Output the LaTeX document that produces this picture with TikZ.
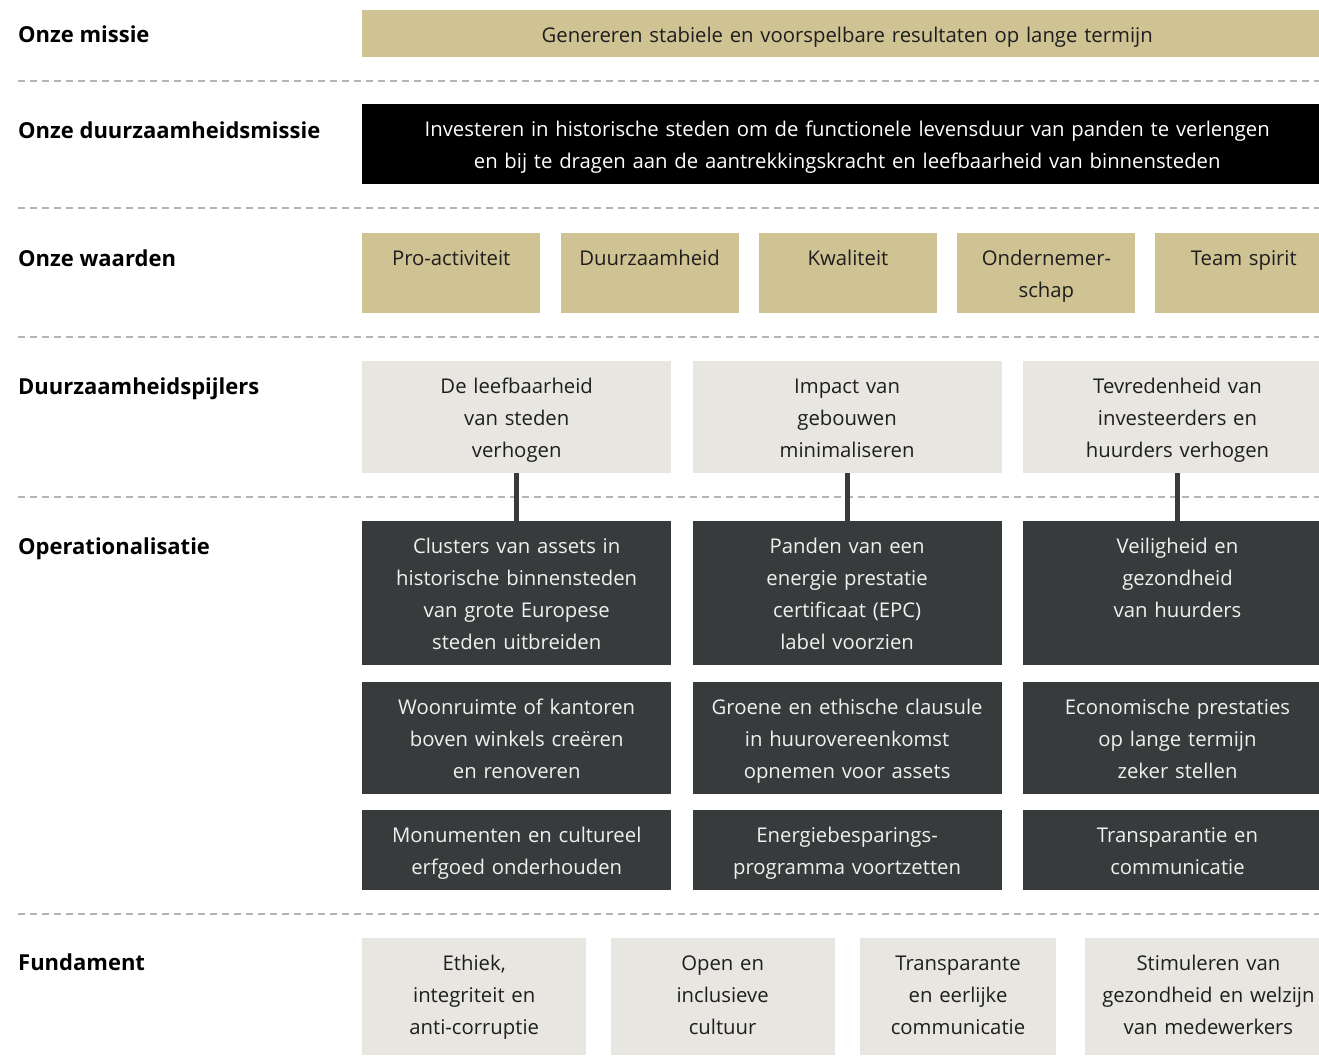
\documentclass[tikz,border=0pt]{standalone}
\usepackage{fontspec}
\setmainfont{Open Sans}
\usetikzlibrary{positioning}
\definecolor{gold}{HTML}{CFC293}
\definecolor{stone}{HTML}{E8E6E1}
\definecolor{slate}{HTML}{383B3C}
\definecolor{ink}{HTML}{1E1E1E}
\definecolor{rulegrey}{HTML}{B4B4B4}

\begin{document}
\begin{tikzpicture}[x=1pt,y=-1pt,font=\fontsize{20.3}{32}\selectfont,node distance=20pt,
  cell/.style={rectangle,inner sep=0pt,anchor=north west,align=center,text height=32pt},
  goldcell/.style={cell,fill=gold,text=ink},
  stonecell/.style={cell,fill=stone,text=ink},
  darkcell/.style={cell,fill=slate,text=white!94!black},
  blackcell/.style={cell,fill=black,text=white},
  rowlabel/.style={anchor=base west,inner sep=0pt,font=\fontsize{22}{25}\selectfont\bfseries,text=black},
  sep/.style={draw=rulegrey,line width=1.2pt,dash pattern=on 7pt off 5pt},
  link/.style={draw=slate,line width=5pt}]
  \useasboundingbox (0,0) rectangle (1319,1063);

  % row labels
  \node[rowlabel] (lmissie) at (18,42) {Onze missie};
  \node[rowlabel] (lduur) at (18,138) {Onze duurzaamheidsmissie};
  \node[rowlabel] (lwaarden) at (18,266) {Onze waarden};
  \node[rowlabel] (lpijlers) at (18,394) {Duurzaamheidspijlers};
  \node[rowlabel] (loper) at (18,554) {Operationalisatie};
  \node[rowlabel] (lfund) at (18,970) {Fundament};

  % separators
  \foreach \y/\n in {81/a,208/b,337/c,497/d,914/e}
    \draw[sep] (18,\y) coordinate (s\n) -- (1319,\y);

  % mission
  \node[goldcell,text width=970pt,text depth=15pt] (missie) at (362,10)
    {Genereren stabiele en voorspelbare resultaten op lange termijn};
  \node[blackcell,text width=970pt,text depth=48pt] (duur) at (362,104)
    {Investeren in historische steden om de functionele levensduur van panden te verlengen\\
     en bij te dragen aan de aantrekkingskracht en leefbaarheid van binnensteden};

  % values
  \node[goldcell,text width=178pt,text depth=48pt] (v1) at (362,233) {Pro-activiteit};
  \node[goldcell,text width=178pt,text depth=48pt,right=of v1] (v2) {Duurzaamheid};
  \node[goldcell,text width=178pt,text depth=48pt,right=of v2] (v3) {Kwaliteit};
  \node[goldcell,text width=178pt,text depth=48pt,right=of v3] (v4) {Ondernemer-\\schap};
  \node[goldcell,text width=178pt,text depth=48pt,right=19pt of v4] (v5) {Team spirit};

  % pillars
  \node[stonecell,text width=309pt,text depth=80pt] (p1) at (362,361)
    {De leefbaarheid\\van steden\\verhogen};
  \node[stonecell,text width=309pt,text depth=80pt,right=21pt of p1] (p2)
    {Impact van\\gebouwen\\minimaliseren};
  \node[stonecell,text width=309pt,text depth=80pt,right=21pt of p2] (p3)
    {Tevredenheid van\\investeerders en\\huurders verhogen};

  % operationalisation
  \node[darkcell,text width=309pt,text depth=112pt] (o1) at (362,521)
    {Clusters van assets in\\historische binnensteden\\van grote Europese\\steden uitbreiden};
  \node[darkcell,text width=309pt,text depth=112pt,right=21pt of o1] (o2)
    {Panden van een\\energie prestatie\\certificaat (EPC)\\label voorzien};
  \node[darkcell,text width=309pt,text depth=112pt,right=21pt of o2] (o3)
    {Veiligheid en\\gezondheid\\van huurders};

  \node[darkcell,text width=309pt,text depth=80pt] (o4) at (362,682)
    {Woonruimte of kantoren\\boven winkels creëren\\en renoveren};
  \node[darkcell,text width=309pt,text depth=80pt,right=21pt of o4] (o5)
    {Groene en ethische clausule\\in huurovereenkomst\\opnemen voor assets};
  \node[darkcell,text width=309pt,text depth=80pt,right=21pt of o5] (o6)
    {Economische prestaties\\op lange termijn\\zeker stellen};

  \node[darkcell,text width=309pt,text depth=48pt] (o7) at (362,810)
    {Monumenten en cultureel\\erfgoed onderhouden};
  \node[darkcell,text width=309pt,text depth=48pt,right=21pt of o7] (o8)
    {Energiebesparings-\\programma voortzetten};
  \node[darkcell,text width=309pt,text depth=48pt,right=21pt of o8] (o9)
    {Transparantie en\\communicatie};

  % foundation
  \node[stonecell,text width=224pt,text depth=85pt] (f1) at (362,938)
    {Ethiek,\\integriteit en\\anti-corruptie};
  \node[stonecell,text width=224pt,text depth=85pt,right=24pt of f1] (f2)
    {Open en\\inclusieve\\cultuur};
  \node[stonecell,text width=196pt,text depth=85pt,right=25pt of f2] (f3)
    {Transparante\\en eerlijke\\communicatie};
  \node[stonecell,text width=246pt,text depth=85pt,right=29pt of f3] (f4)
    {Stimuleren van\\gezondheid en welzijn\\van medewerkers};

  % pillar links
  \foreach \a/\b in {p1/o1,p2/o2,p3/o3}
    \draw[link] (\a.south) -- (\b.north);
\end{tikzpicture}
\end{document}
